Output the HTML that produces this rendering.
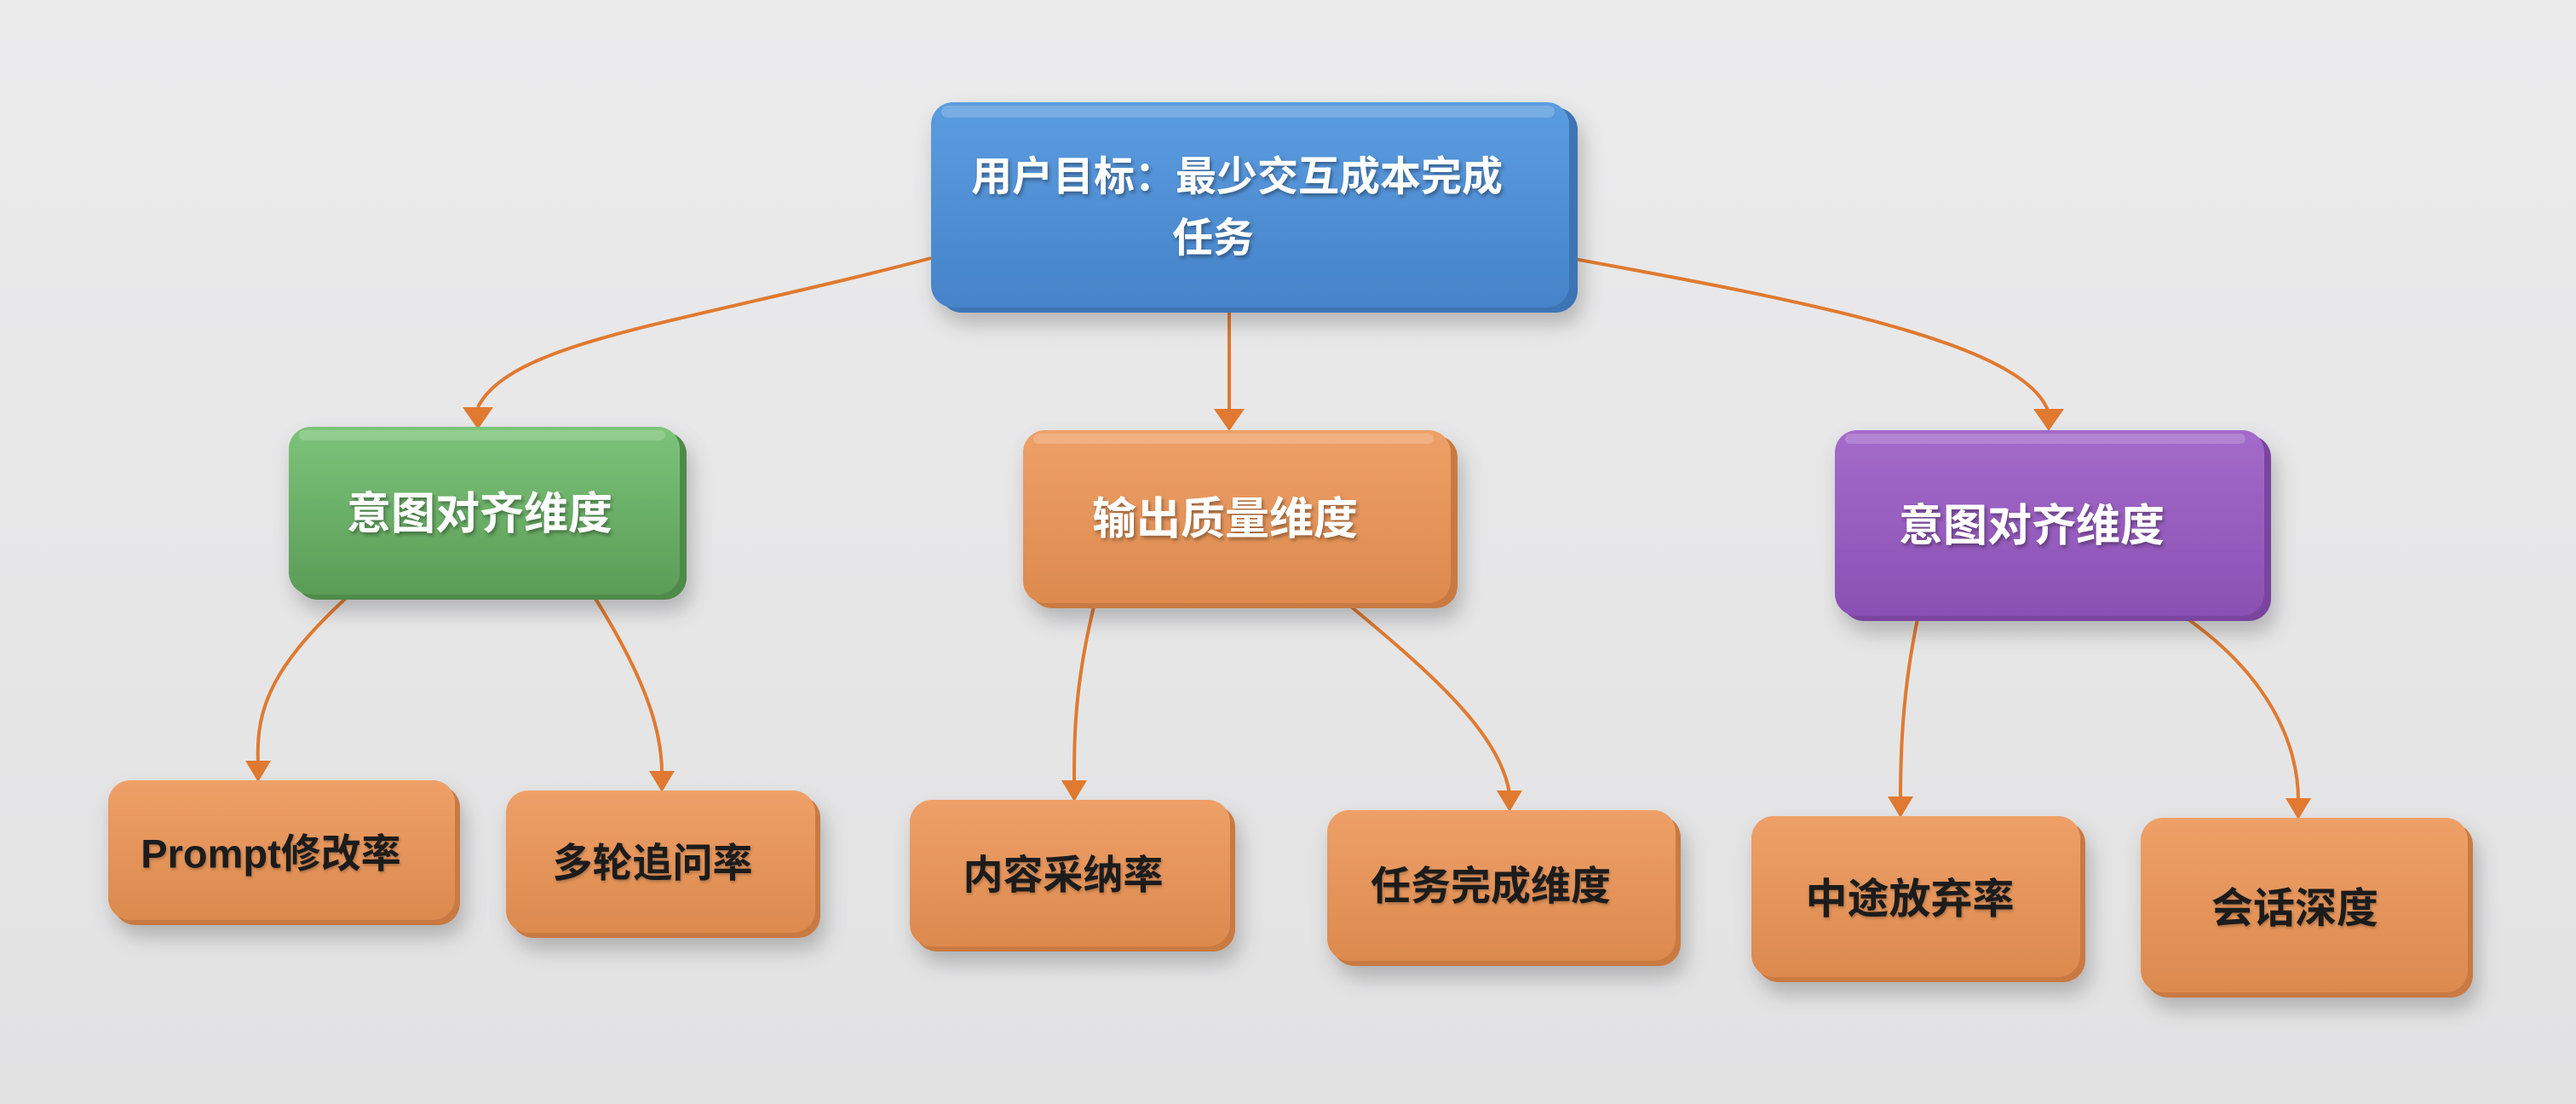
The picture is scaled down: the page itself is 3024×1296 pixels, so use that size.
<!DOCTYPE html>
<html><head><meta charset="utf-8"><style>
html,body{margin:0;padding:0;width:3024px;height:1296px;overflow:hidden;background:#e9e9ea}
svg{display:block}
text{font-family:"Liberation Sans","Noto Sans CJK SC",sans-serif;font-weight:bold;text-anchor:middle;dominant-baseline:central}
</style></head><body>
<svg width="3024" height="1296" viewBox="0 0 3024 1296">
<defs>
<linearGradient id="bg" x1="0" y1="0" x2="0" y2="1"><stop offset="0" stop-color="#ebebec"/><stop offset="1" stop-color="#e2e2e3"/></linearGradient>
<linearGradient id="gb" x1="0" y1="0" x2="0" y2="1"><stop offset="0" stop-color="#5b9ce0"/><stop offset="1" stop-color="#4683c8"/></linearGradient>
<linearGradient id="gg" x1="0" y1="0" x2="0" y2="1"><stop offset="0" stop-color="#7cc47a"/><stop offset="1" stop-color="#5b9c57"/></linearGradient>
<linearGradient id="go" x1="0" y1="0" x2="0" y2="1"><stop offset="0" stop-color="#eea068"/><stop offset="1" stop-color="#dc8a4e"/></linearGradient>
<linearGradient id="gp" x1="0" y1="0" x2="0" y2="1"><stop offset="0" stop-color="#a46bcb"/><stop offset="1" stop-color="#8a50b3"/></linearGradient>
<filter id="sh" x="-10%" y="-10%" width="130%" height="140%"><feDropShadow dx="6" dy="14" stdDeviation="12" flood-color="#000" flood-opacity="0.22"/></filter>
<filter id="ts"><feDropShadow dx="2" dy="3" stdDeviation="2" flood-color="#000" flood-opacity="0.35"/></filter>
<filter id="ts2"><feDropShadow dx="1" dy="2" stdDeviation="1.5" flood-color="#000" flood-opacity="0.25"/></filter>
</defs>
<rect width="3024" height="1296" fill="url(#bg)"/>
<g fill="none" stroke="#e07a30" stroke-width="4">
<path d="M1093,303 C800,380 600,400 561,478"/>
<path d="M1443,361 L1443,485"/>
<path d="M1821,299 C2100,350 2380,400 2405,485"/>
<path d="M415,694 C320,780 300,830 303,896"/>
<path d="M696,698 C760,800 777,860 777,908"/>
<path d="M1286,704 C1262,800 1261,860 1261,919"/>
<path d="M1581,708 C1680,790 1760,860 1772,931"/>
<path d="M2253,717 C2235,800 2231,870 2231,938"/>
<path d="M2563,723 C2660,790 2698,870 2698,940"/>
</g>
<g fill="#e07a30">
<path d="M543,478 L579,478 L561,504 Z"/>
<path d="M1425,480 L1461,480 L1443,506 Z"/>
<path d="M2387,480 L2423,480 L2405,506 Z"/>
<path d="M288,893 L318,893 L303,918 Z"/>
<path d="M762,905 L792,905 L777,930 Z"/>
<path d="M1246,916 L1276,916 L1261,941 Z"/>
<path d="M1757,928 L1787,928 L1772,953 Z"/>
<path d="M2216,935 L2246,935 L2231,960 Z"/>
<path d="M2683,937 L2713,937 L2698,962 Z"/>
</g>
<g filter="url(#sh)">
<rect x="1103" y="126" width="749" height="241" rx="26" fill="#3c74b4"/>
<rect x="1093" y="120" width="749" height="241" rx="26" fill="url(#gb)"/>
<rect x="347" y="507" width="459" height="197" rx="26" fill="#4f8a4b"/>
<rect x="339" y="501" width="459" height="197" rx="26" fill="url(#gg)"/>
<rect x="1209" y="511" width="502" height="203" rx="26" fill="#c97a42"/>
<rect x="1201" y="505" width="502" height="203" rx="26" fill="url(#go)"/>
<rect x="2162" y="511" width="504" height="218" rx="26" fill="#7a449f"/>
<rect x="2154" y="505" width="504" height="218" rx="26" fill="url(#gp)"/>
<rect x="133" y="922" width="407" height="164" rx="26" fill="#c97a42"/>
<rect x="127" y="916" width="407" height="164" rx="26" fill="url(#go)"/>
<rect x="600" y="934" width="363" height="167" rx="26" fill="#c97a42"/>
<rect x="594" y="928" width="363" height="167" rx="26" fill="url(#go)"/>
<rect x="1074" y="945" width="376" height="172" rx="26" fill="#c97a42"/>
<rect x="1068" y="939" width="376" height="172" rx="26" fill="url(#go)"/>
<rect x="1564" y="957" width="409" height="177" rx="26" fill="#c97a42"/>
<rect x="1558" y="951" width="409" height="177" rx="26" fill="url(#go)"/>
<rect x="2062" y="964" width="386" height="189" rx="26" fill="#c97a42"/>
<rect x="2056" y="958" width="386" height="189" rx="26" fill="url(#go)"/>
<rect x="2519" y="966" width="384" height="205" rx="26" fill="#c97a42"/>
<rect x="2513" y="960" width="384" height="205" rx="26" fill="url(#go)"/>
</g>
<g fill="#fff" opacity="0.18">
<rect x="1105" y="124" width="720" height="14" rx="7"/>
<rect x="351" y="505" width="430" height="12" rx="6"/>
<rect x="1213" y="509" width="470" height="12" rx="6"/>
<rect x="2166" y="509" width="470" height="12" rx="6"/>
</g>
<g fill="#fff" filter="url(#ts)">
<text x="1452" y="208" font-size="48">用户目标：最少交互成本完成</text>
<text x="1424" y="280" font-size="48">任务</text>
<text x="563" y="604" font-size="52">意图对齐维度</text>
<text x="1438" y="610" font-size="52">输出质量维度</text>
<text x="2385" y="618" font-size="52">意图对齐维度</text>
</g>
<g fill="#1a1a1a" filter="url(#ts2)" style="font-weight:normal">
<text x="318" y="1002" font-size="47">Prompt修改率</text>
<text x="766" y="1013" font-size="47">多轮追问率</text>
<text x="1248" y="1027" font-size="47">内容采纳率</text>
<text x="1750" y="1040" font-size="47">任务完成维度</text>
<text x="2242" y="1056" font-size="49">中途放弃率</text>
<text x="2694" y="1067" font-size="49">会话深度</text>
</g>
</svg>
</body></html>
